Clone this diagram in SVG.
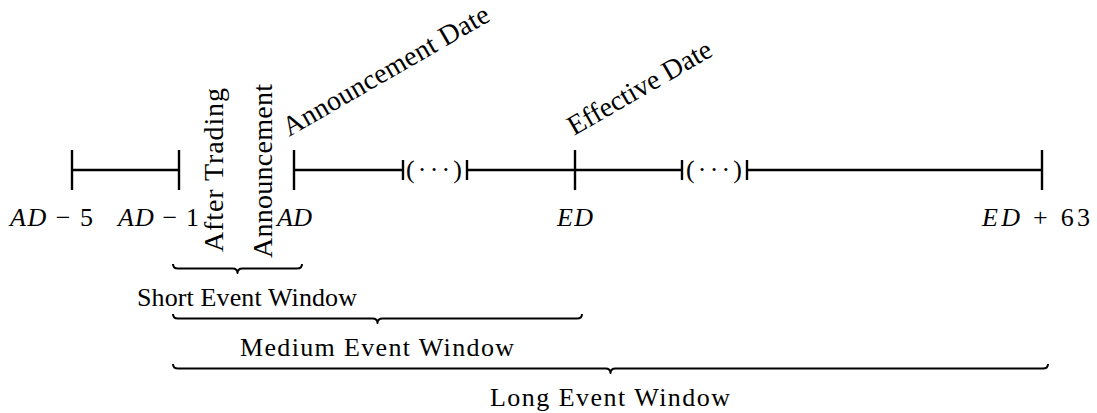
<svg xmlns="http://www.w3.org/2000/svg" width="1097" height="413" viewBox="0 0 1097 413">
<style>
.ln{stroke:#000;stroke-width:2.4;fill:none;stroke-linecap:butt}
.br{stroke:#000;stroke-width:2;fill:none;stroke-linejoin:round}
.t{font-family:"Liberation Serif","Times New Roman",serif;fill:#000}
.m{font-family:"Liberation Serif","Times New Roman",serif;fill:#000;font-size:26px}
.i{font-style:italic}
.lab{font-size:26px}
.rot{font-size:28px}
</style>
<rect width="1097" height="413" fill="#fff"/>
<g id="connectors">
  <line class="ln" x1="72" y1="170" x2="179" y2="170"/>
  <line class="ln" x1="294" y1="170" x2="403" y2="170"/>
  <line class="ln" x1="467" y1="170" x2="682" y2="170"/>
  <line class="ln" x1="747" y1="170" x2="1042" y2="170"/>
  <line class="ln" x1="72" y1="150" x2="72" y2="190"/>
  <line class="ln" x1="179" y1="150" x2="179" y2="190"/>
  <line class="ln" x1="294" y1="150" x2="294" y2="190"/>
  <line class="ln" x1="575" y1="150" x2="575" y2="190"/>
  <line class="ln" x1="1042" y1="150" x2="1042" y2="190"/>
  <line class="ln" x1="403" y1="160" x2="403" y2="180"/>
  <line class="ln" x1="467" y1="160" x2="467" y2="180"/>
  <line class="ln" x1="682" y1="160" x2="682" y2="180"/>
  <line class="ln" x1="747" y1="160" x2="747" y2="180"/>
  <path class="br" d="M173,264 Q173,268.5 178,268.5 L232.5,268.5 Q237.5,268.5 237.5,273 Q237.5,268.5 242.5,268.5 L297,268.5 Q302,268.5 302,264"/>
  <path class="br" d="M173,314 Q173,318.5 178,318.5 L372.5,318.5 Q377.5,318.5 377.5,323 Q377.5,318.5 382.5,318.5 L577,318.5 Q582,318.5 582,314"/>
  <path class="br" d="M173,364 Q173,368.5 178,368.5 L605.5,368.5 Q610.5,368.5 610.5,373 Q610.5,368.5 615.5,368.5 L1043,368.5 Q1048,368.5 1048,364"/>
</g>
<g id="dots1"><text class="m" x="406" y="178" textLength="56">(···)</text></g>
<g id="dots2"><text class="m" x="686" y="178" textLength="56">(···)</text></g>
<g id="ad-5"><text class="m" x="10" y="226" textLength="83"><tspan class="i">AD</tspan> − 5</text></g>
<g id="ad-1"><text class="m" x="118" y="226" textLength="81"><tspan class="i">AD</tspan> − 1</text></g>
<g id="ad"><text class="m i" x="277" y="226" textLength="35">AD</text></g>
<g id="ed"><text class="m i" x="557" y="226" textLength="36">ED</text></g>
<g id="ed63"><text class="m" x="982" y="226" textLength="108"><tspan class="i">ED</tspan> + 63</text></g>
<g id="after-trading"><text class="t rot" transform="translate(223,252) rotate(-90)" textLength="164">After Trading</text></g>
<g id="announcement"><text class="t rot" transform="translate(272,258) rotate(-90)" textLength="174">Announcement</text></g>
<g id="announcement-date"><text class="t rot" transform="translate(289,137) rotate(-30)" textLength="234">Announcement Date</text></g>
<g id="effective-date"><text class="t rot" transform="translate(574,136) rotate(-30)" textLength="162">Effective Date</text></g>
<g id="short"><text class="t lab" x="137" y="306" textLength="220">Short Event Window</text></g>
<g id="medium"><text class="t lab" x="240" y="356" textLength="274">Medium Event Window</text></g>
<g id="long"><text class="t lab" x="490" y="406" textLength="240">Long Event Window</text></g>
</svg>
